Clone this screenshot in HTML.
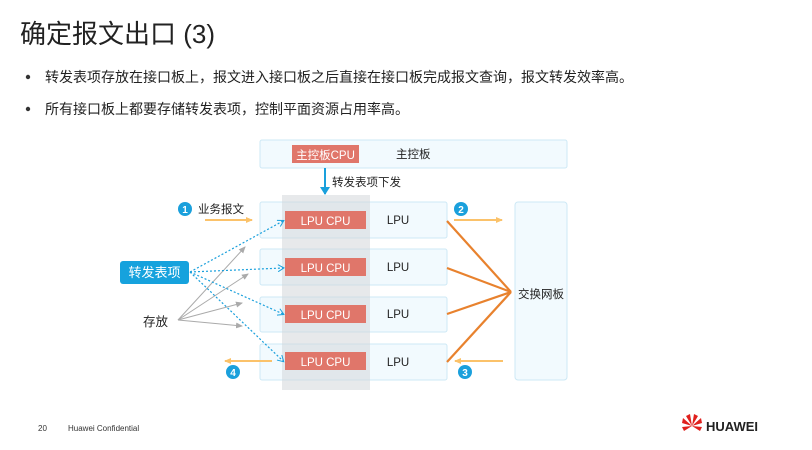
<!DOCTYPE html>
<html><head><meta charset="utf-8"><style>
body{margin:0;width:812px;height:450px;background:#fff;overflow:hidden;font-family:"Liberation Sans","Noto Sans CJK SC",sans-serif}
svg{position:absolute;left:0;top:0}
</style></head><body>
<svg width="812" height="450" xmlns="http://www.w3.org/2000/svg" font-family="Liberation Sans, Noto Sans CJK SC, sans-serif">
<defs>
<marker id="ay" markerWidth="8" markerHeight="8" refX="6" refY="4" orient="auto" markerUnits="userSpaceOnUse"><path d="M0,1 L7,4 L0,7 z" fill="#fbc26a"/></marker>
<marker id="ab" markerWidth="8" markerHeight="8" refX="6" refY="4" orient="auto" markerUnits="userSpaceOnUse"><path d="M1,0.5 L7,4 L1,7.5" fill="none" stroke="#1aa0dc" stroke-width="1"/></marker>
<marker id="ag" markerWidth="8" markerHeight="8" refX="6" refY="4" orient="auto" markerUnits="userSpaceOnUse"><path d="M0,1 L7,4 L0,7 z" fill="#aaa"/></marker>
<marker id="abl" markerWidth="10" markerHeight="10" refX="5" refY="8" orient="auto" markerUnits="userSpaceOnUse"><path d="M0,1 L5,9 L10,1 z" fill="#1aa0dc" transform="rotate(-90 5 5)"/></marker>
</defs>
<text x="20" y="43" font-size="26" fill="#222">确定报文出口 (3)</text>
<circle cx="28" cy="77" r="2.2" fill="#333"/>
<text x="45" y="82" font-size="14" fill="#222">转发表项存放在接口板上，报文进入接口板之后直接在接口板完成报文查询，报文转发效率高。</text>
<circle cx="28" cy="109" r="2.2" fill="#333"/>
<text x="45" y="114" font-size="14" fill="#222">所有接口板上都要存储转发表项，控制平面资源占用率高。</text>

<rect x="260" y="140" width="307" height="28" rx="2" fill="#f2fafe" stroke="#cde8f5"/>
<rect x="292" y="145" width="67" height="18" fill="#e0766a"/>
<text x="325.5" y="159" font-size="11.5" fill="#fff" text-anchor="middle">主控板CPU</text>
<text x="396" y="158" font-size="11.5" fill="#222">主控板</text>

<g fill="#f2fafe" stroke="#cde8f5">
<rect x="260" y="202" width="187" height="36" rx="2"/>
<rect x="260" y="249" width="187" height="36" rx="2"/>
<rect x="260" y="297" width="187" height="35" rx="2"/>
<rect x="260" y="344" width="187" height="36" rx="2"/>
<rect x="515" y="202" width="52" height="178" rx="3"/>
</g>
<rect x="282" y="195" width="88" height="195" fill="#d3d7da" opacity="0.55"/>
<g fill="#e0766a">
<rect x="285" y="211" width="81" height="18"/>
<rect x="285" y="258" width="81" height="18"/>
<rect x="285" y="305" width="81" height="18"/>
<rect x="285" y="352" width="81" height="18"/>
</g>
<g font-size="11.5" fill="#fff" text-anchor="middle">
<text x="325.5" y="225">LPU CPU</text><text x="325.5" y="272">LPU CPU</text>
<text x="325.5" y="319">LPU CPU</text><text x="325.5" y="366">LPU CPU</text>
</g>
<g font-size="11.5" fill="#222" text-anchor="middle">
<text x="398" y="224">LPU</text><text x="398" y="271">LPU</text>
<text x="398" y="318">LPU</text><text x="398" y="366">LPU</text>
<text x="541" y="298">交换网板</text>
</g>
<line x1="325" y1="168" x2="325" y2="194" stroke="#1aa0dc" stroke-width="2"/>
<path d="M320,187 L330,187 L325,195 z" fill="#1aa0dc"/>
<text x="332" y="186" font-size="11.5" fill="#222">转发表项下发</text>

<g stroke="#e8822e" stroke-width="2.2">
<line x1="447" y1="221" x2="511" y2="292"/><line x1="447" y1="268" x2="511" y2="292"/>
<line x1="447" y1="314" x2="511" y2="292"/><line x1="447" y1="362" x2="511" y2="292"/>
</g>
<g stroke="#fbc26a" stroke-width="2" marker-end="url(#ay)">
<line x1="205" y1="220" x2="252" y2="220"/><line x1="454" y1="220" x2="502" y2="220"/>
<line x1="503" y1="361" x2="455" y2="361"/><line x1="272" y1="361" x2="225" y2="361"/>
</g>
<g fill="#1aa0dc"><circle cx="185" cy="209" r="7"/><circle cx="461" cy="209" r="7"/><circle cx="465" cy="372" r="7"/><circle cx="233" cy="372" r="7"/></g>
<g fill="#fff" font-size="10" font-weight="bold" text-anchor="middle">
<text x="185" y="213">1</text><text x="461" y="213">2</text><text x="465" y="376">3</text><text x="233" y="376">4</text></g>
<text x="198" y="213" font-size="11.5" fill="#222">业务报文</text>

<g stroke="#aaa" stroke-width="1" marker-end="url(#ag)">
<line x1="178" y1="320" x2="245" y2="247"/><line x1="178" y1="320" x2="248" y2="274"/>
<line x1="178" y1="320" x2="242" y2="303"/><line x1="178" y1="320" x2="242" y2="326"/>
</g>
<g stroke="#1aa0dc" stroke-width="1.2" stroke-dasharray="2,2" fill="none" marker-end="url(#ab)">
<line x1="190" y1="272" x2="283" y2="221"/><line x1="190" y1="272" x2="283" y2="268"/>
<line x1="190" y1="272" x2="283" y2="314"/><line x1="190" y1="272" x2="283" y2="361"/>
</g>
<rect x="120" y="261" width="69" height="23" rx="3" fill="#16a2dd"/>
<text x="154.5" y="277" font-size="13" fill="#fff" text-anchor="middle">转发表项</text>
<text x="143" y="326" font-size="12.5" fill="#222">存放</text>

<text x="38" y="431" font-size="8" fill="#333">20</text>
<text x="68" y="431" font-size="8" fill="#333">Huawei Confidential</text>
<g fill="#e0201d" transform="translate(692,426)">
<path d="M0,0 L-10,-3 L-9,-8 z"/><path d="M0,0 L-6,-10 L-2,-12 z"/><path d="M0,0 L2,-12 L6,-10 z"/>
<path d="M0,0 L9,-8 L10,-3 z"/><path d="M0,0 L-10,1 L-8,5 z"/><path d="M0,0 L10,1 L8,5 z"/>
</g>
<text x="706" y="431" font-size="13" font-weight="bold" fill="#222">HUAWEI</text>
</svg>
</body></html>
